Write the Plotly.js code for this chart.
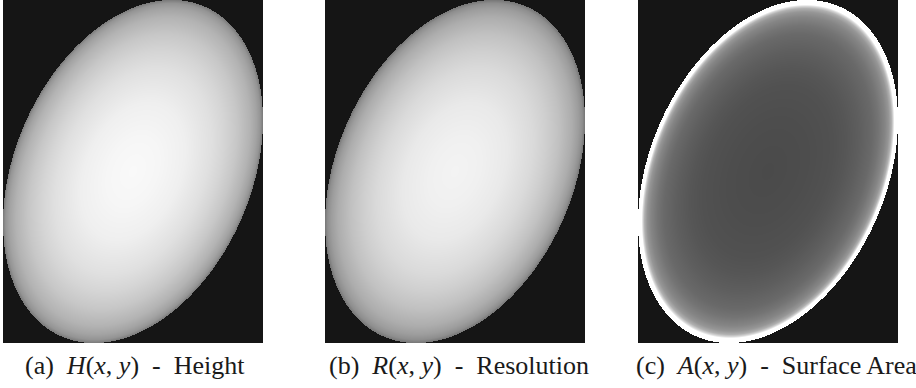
<!DOCTYPE html>
<html>
<head>
<meta charset="utf-8">
<script src="https://cdn.plot.ly/plotly-3.0.1.min.js"></script>
<style>html,body{margin:0;padding:0;background:#fff;}#chart{width:916px;height:388px;}</style>
</head>
<body>
<div id="chart"></div>
<script>
// ---- values ----
const captions = [
  "(a)\u2002<i>H</i>(<i>x</i>, <i>y</i>)\u2002-\u2002Height",
  "(b)\u2002<i>R</i>(<i>x</i>, <i>y</i>)\u2002-\u2002Resolution",
  "(c)\u2002<i>A</i>(<i>x</i>, <i>y</i>)\u2002-\u2002Surface Area"
];
// panel image size (px) and ellipse geometry measured on the picture
const panelSize = [260, 343];
const ellipseCenter = [130, 171.5];
const ellipseAxes = [179.8, 118.3];   // semi-major, semi-minor
const ellipseTiltDeg = 23.4;           // major axis leans right at the top
// grey level versus normalised elliptical radius (0 = centre, 1 = rim)
const profileRadius   = [0,   0.2, 0.4, 0.6, 0.7, 0.8, 0.9, 0.95, 0.98, 1.0];
const heightGray      = [249, 246, 239, 224, 213, 199, 179, 163, 148, 122];
const resolutionGray  = [243, 240, 233, 218, 207, 193, 173, 157, 142, 118];
const areaRadius      = [0,  0.3, 0.5, 0.6, 0.7, 0.8, 0.85, 0.9, 0.93, 0.95, 0.962, 0.972, 1.0];
const areaGray        = [74, 77,  81,  86,  94,  105, 116,  133, 150,  176,  212,   255,   255];

const bg = "#151515";
function scale(rad, gray){ return rad.map((r,i)=>[r, `rgb(${gray[i]},${gray[i]},${gray[i]})`]); }

// pixel grid of the panel, z = normalised elliptical radius (null outside)
const xs = Array.from({length: panelSize[0]}, (_, i) => i + 0.5);
const ys = Array.from({length: panelSize[1]}, (_, j) => j + 0.5);
const th = ellipseTiltDeg * Math.PI / 180, s = Math.sin(th), c = Math.cos(th);
const zr = ys.map(y => xs.map(x => {
  const dx = x - ellipseCenter[0], dy = y - ellipseCenter[1];
  const p = dx * s - dy * c, q = dx * c + dy * s;
  const r = Math.sqrt((p/ellipseAxes[0])**2 + (q/ellipseAxes[1])**2);
  return r <= 1 ? r : null;
}));

const scales = [scale(profileRadius, heightGray), scale(profileRadius, resolutionGray), scale(areaRadius, areaGray)];
const left = [3, 325, 638];
const capX = [134.5, 458.5, 776.5];

const data = [], layout = {
  width: 916, height: 388, margin: {l:0, r:0, t:0, b:0},
  paper_bgcolor: "#ffffff", plot_bgcolor: bg, showlegend: false,
  annotations: []
};
const yTop = 1, yBot = (388 - panelSize[1]) / 388;
for (let k = 0; k < 3; k++) {
  const xa = k === 0 ? "x" : "x" + (k+1), ya = k === 0 ? "y" : "y" + (k+1);
  data.push({type: "heatmap", x: xs, y: ys, z: zr, zmin: 0, zmax: 1, zsmooth: false,
    colorscale: scales[k], showscale: false, hoverinfo: "skip", xaxis: xa, yaxis: ya});
  const axX = {domain: [left[k]/916, (left[k]+panelSize[0])/916], range: [0, panelSize[0]], visible: false, fixedrange: true};
  const axY = {domain: [yBot, yTop], range: [panelSize[1], 0], visible: false, fixedrange: true};
  if (k > 0) { axY.anchor = xa; axX.anchor = ya; }
  layout[k === 0 ? "xaxis" : "xaxis" + (k+1)] = axX;
  layout[k === 0 ? "yaxis" : "yaxis" + (k+1)] = axY;
  layout.annotations.push({text: captions[k], xref: "paper", yref: "paper",
    x: capX[k]/916, y: (388-365)/388, xanchor: "center", yanchor: "middle", showarrow: false,
    font: {family: "Liberation Serif, serif", size: 26, color: "#1a1a1a"}});
}
Plotly.newPlot("chart", data, layout, {staticPlot: true, displayModeBar: false});
</script>
</body>
</html>
